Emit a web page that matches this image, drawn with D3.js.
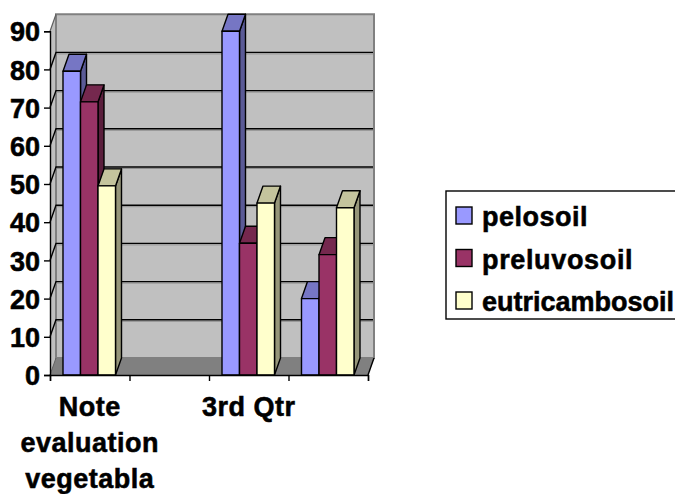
<!DOCTYPE html>
<html><head><meta charset="utf-8">
<script src="https://cdn.jsdelivr.net/npm/d3@7"></script>
<style>html,body{margin:0;padding:0;background:#fff}svg{display:block}text{font-family:"Liberation Sans",Arial,sans-serif;font-weight:bold;font-size:27px;fill:#000;stroke:#000;stroke-width:.55px}</style>
</head><body><svg id="c" width="675" height="494"></svg>
<script>
const categories = ["c1","c2","c3","c4"];
const categoryLabels = [["Note","evaluation","vegetabla"],[],["3rd Qtr"],[]];
const seriesNames = ["pelosoil","preluvosoil","eutricambosoil"];
const pelosoil = [79.5,null,90,20];
const preluvosoil = [71.5,null,34.5,31.5];
const eutricambosoil = [49.5,null,45,43.8];
const seriesValues = [pelosoil,preluvosoil,eutricambosoil];
const yTicks = [0,10,20,30,40,50,60,70,80,90];
const faceColors = ["#9999FF","#993366","#FFFFCC"];
const topColors = ["#7676C4","#75284E","#C4C49D"];
const sideColors = ["#5A5A96","#5A1E3C","#96967A"];
const legendSpacing = [0.5,0.65,0];

const DX = 6, DY = -17;
const svg = d3.select("#c");
const y = d3.scaleLinear().domain([0,90]).range([375,31.2]);
const x0 = d3.scaleBand().domain(categories).range([50,368]);
const x1 = d3.scaleBand().domain(seriesNames).range([13,65.5]);
const poly = pts => pts.map(p=>p.join(",")).join(" ");
const L=50,R=368,B=y(0),T=y(90);

// walls
svg.append("polygon").attr("points",poly([[L,B],[L,T],[L+DX,T+DY],[L+DX,B+DY]])).attr("fill","#C0C0C0");
svg.append("polygon").attr("points",poly([[L+DX,T+DY],[R+DX,T+DY],[R+DX,B+DY],[L+DX,B+DY]])).attr("fill","#C0C0C0").attr("stroke","#808080").attr("stroke-width",2);
svg.append("polygon").attr("points",poly([[L,B],[L+DX,B+DY],[R+DX,B+DY],[R,B]])).attr("fill","#808080");

// gridlines
yTicks.filter(v=>v>0&&v<90).forEach(v=>{
  svg.append("line").attr("x1",L+DX).attr("x2",R+DX-1).attr("y1",y(v)+DY+1.5).attr("y2",y(v)+DY+1.5).attr("stroke","#909090").attr("stroke-width",1);
  svg.append("polyline").attr("points",poly([[L,y(v)],[L+DX,y(v)+DY],[R+DX-1,y(v)+DY]])).attr("fill","none").attr("stroke","#000").attr("stroke-width",1.4);
});
svg.append("line").attr("x1",L).attr("y1",T).attr("x2",L+DX).attr("y2",T+DY).attr("stroke","#606060").attr("stroke-width",1.2);
svg.append("line").attr("x1",L).attr("y1",B).attr("x2",L+DX).attr("y2",B+DY).attr("stroke","#606060").attr("stroke-width",1);
svg.append("line").attr("x1",R).attr("y1",B).attr("x2",R+DX).attr("y2",B+DY).attr("stroke","#000").attr("stroke-width",1.4);

// bars
categories.forEach((c,ci)=>{
  seriesNames.forEach((s,si)=>{
    const v = seriesValues[si][ci];
    if(v==null) return;
    const xa = x0(c)+x1(s), xb = xa+x1.bandwidth(), yt = y(v);
    const g = svg.append("g").attr("stroke","#000").attr("stroke-width",1.4).attr("stroke-linejoin","round");
    g.append("polygon").attr("points",poly([[xb,B],[xb,yt],[xb+DX,yt+DY],[xb+DX,B+DY]])).attr("fill",sideColors[si]);
    g.append("polygon").attr("points",poly([[xa,yt],[xa+DX,yt+DY],[xb+DX,yt+DY],[xb,yt]])).attr("fill",topColors[si]);
    g.append("rect").attr("x",xa).attr("y",yt).attr("width",xb-xa).attr("height",B-yt).attr("fill",faceColors[si]);
  });
});

// axes
const yAxis = d3.axisLeft(y).tickValues(yTicks).tickSize(6).tickPadding(4);
const gy = svg.append("g").attr("transform",`translate(${L},0)`).call(yAxis);
const xEdges = categories.map(c=>x0(c)).concat([R]);
const xAxis = d3.axisBottom(d3.scaleIdentity().domain([L,R]).range([L,R])).tickValues(xEdges).tickSize(6).tickFormat("");
const gx = svg.append("g").attr("transform",`translate(0,${B})`).call(xAxis);
[gy,gx].forEach(g=>{g.selectAll("path,line").attr("stroke","#000").attr("stroke-width",1.4);});
gy.selectAll("text").style("font-size","27px").attr("dy","0.36em");
gy.attr("font-family",null).attr("font-size",null);
gx.attr("font-family",null).attr("font-size",null);

// category labels
categories.forEach((c,i)=>{
  categoryLabels[i].forEach((t,j)=>{
    svg.append("text").attr("x",x0(c)+x0.bandwidth()/2).attr("y",416+j*36).attr("text-anchor","middle").style("letter-spacing","0.5px").text(t);
  });
});

// legend
svg.append("rect").attr("x",446).attr("y",191).attr("width",240).attr("height",128).attr("fill","#fff").attr("stroke","#000").attr("stroke-width",1.4);
seriesNames.forEach((s,i)=>{
  const ly = 217+i*42.5;
  svg.append("rect").attr("x",456).attr("y",ly-10).attr("width",16).attr("height",17).attr("fill",faceColors[i]).attr("stroke","#000").attr("stroke-width",1.4);
  svg.append("text").attr("x",482).attr("y",ly+9).style("letter-spacing",legendSpacing[i]+"px").text(s);
});
</script></body></html>
